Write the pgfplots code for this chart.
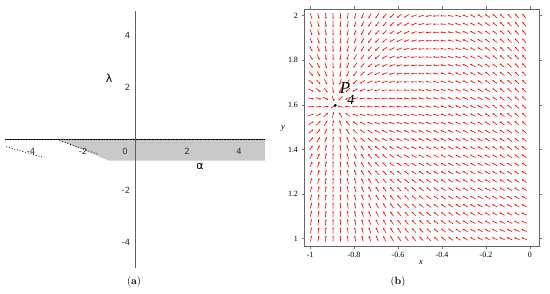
\documentclass[border=0pt]{standalone}
\usepackage{fontspec}
\usepackage{pgfplots}
\usepackage{pgfplotstable}
\pgfplotsset{compat=1.18}
\usetikzlibrary{arrows.meta}
\newfontfamily\dejavu{DejaVu Sans}
\newfontfamily\timesf{Liberation Serif}

% direction field of panel (b): grid point (x,y) and direction (u,v)
\pgfplotstableread{
x y u v
-0.995 1.000 0.104 0.480
-0.995 1.037 0.104 0.450
-0.995 1.074 0.104 0.421
-0.995 1.111 0.104 0.391
-0.995 1.148 0.104 0.362
-0.995 1.185 0.104 0.332
-0.995 1.222 0.104 0.302
-0.995 1.259 0.104 0.273
-0.995 1.296 0.104 0.243
-0.995 1.333 0.104 0.214
-0.995 1.370 0.104 0.184
-0.995 1.407 0.104 0.154
-0.995 1.444 0.104 0.125
-0.995 1.481 0.104 0.095
-0.995 1.518 0.104 0.066
-0.995 1.555 0.104 0.036
-0.995 1.592 0.104 0.006
-0.995 1.629 0.104 -0.023
-0.995 1.666 0.104 -0.053
-0.995 1.703 0.104 -0.082
-0.995 1.740 0.104 -0.112
-0.995 1.777 0.104 -0.142
-0.995 1.814 0.104 -0.171
-0.995 1.851 0.104 -0.201
-0.995 1.888 0.104 -0.230
-0.995 1.925 0.104 -0.260
-0.995 1.962 0.104 -0.290
-0.995 1.999 0.104 -0.319
-0.9616 1.000 0.0737 0.480
-0.9616 1.037 0.0737 0.450
-0.9616 1.074 0.0737 0.421
-0.9616 1.111 0.0737 0.391
-0.9616 1.148 0.0737 0.362
-0.9616 1.185 0.0737 0.332
-0.9616 1.222 0.0737 0.302
-0.9616 1.259 0.0737 0.273
-0.9616 1.296 0.0737 0.243
-0.9616 1.333 0.0737 0.214
-0.9616 1.370 0.0737 0.184
-0.9616 1.407 0.0737 0.154
-0.9616 1.444 0.0737 0.125
-0.9616 1.481 0.0737 0.095
-0.9616 1.518 0.0737 0.066
-0.9616 1.555 0.0737 0.036
-0.9616 1.592 0.0737 0.006
-0.9616 1.629 0.0737 -0.023
-0.9616 1.666 0.0737 -0.053
-0.9616 1.703 0.0737 -0.082
-0.9616 1.740 0.0737 -0.112
-0.9616 1.777 0.0737 -0.142
-0.9616 1.814 0.0737 -0.171
-0.9616 1.851 0.0737 -0.201
-0.9616 1.888 0.0737 -0.230
-0.9616 1.925 0.0737 -0.260
-0.9616 1.962 0.0737 -0.290
-0.9616 1.999 0.0737 -0.319
-0.9282 1.000 0.0423 0.480
-0.9282 1.037 0.0423 0.450
-0.9282 1.074 0.0423 0.421
-0.9282 1.111 0.0423 0.391
-0.9282 1.148 0.0423 0.362
-0.9282 1.185 0.0423 0.332
-0.9282 1.222 0.0423 0.302
-0.9282 1.259 0.0423 0.273
-0.9282 1.296 0.0423 0.243
-0.9282 1.333 0.0423 0.214
-0.9282 1.370 0.0423 0.184
-0.9282 1.407 0.0423 0.154
-0.9282 1.444 0.0423 0.125
-0.9282 1.481 0.0423 0.095
-0.9282 1.518 0.0423 0.066
-0.9282 1.555 0.0423 0.036
-0.9282 1.592 0.0423 0.006
-0.9282 1.629 0.0423 -0.023
-0.9282 1.666 0.0423 -0.053
-0.9282 1.703 0.0423 -0.082
-0.9282 1.740 0.0423 -0.112
-0.9282 1.777 0.0423 -0.142
-0.9282 1.814 0.0423 -0.171
-0.9282 1.851 0.0423 -0.201
-0.9282 1.888 0.0423 -0.230
-0.9282 1.925 0.0423 -0.260
-0.9282 1.962 0.0423 -0.290
-0.9282 1.999 0.0423 -0.319
-0.8948 1.000 0.0098 0.480
-0.8948 1.037 0.0098 0.450
-0.8948 1.074 0.0098 0.421
-0.8948 1.111 0.0098 0.391
-0.8948 1.148 0.0098 0.362
-0.8948 1.185 0.0098 0.332
-0.8948 1.222 0.0098 0.302
-0.8948 1.259 0.0098 0.273
-0.8948 1.296 0.0098 0.243
-0.8948 1.333 0.0098 0.214
-0.8948 1.370 0.0098 0.184
-0.8948 1.407 0.0098 0.154
-0.8948 1.444 0.0098 0.125
-0.8948 1.481 0.0098 0.095
-0.8948 1.518 0.0098 0.066
-0.8948 1.555 0.0098 0.036
-0.8948 1.592 0.0098 0.006
-0.8948 1.629 0.0098 -0.023
-0.8948 1.666 0.0098 -0.053
-0.8948 1.703 0.0098 -0.082
-0.8948 1.740 0.0098 -0.112
-0.8948 1.777 0.0098 -0.142
-0.8948 1.814 0.0098 -0.171
-0.8948 1.851 0.0098 -0.201
-0.8948 1.888 0.0098 -0.230
-0.8948 1.925 0.0098 -0.260
-0.8948 1.962 0.0098 -0.290
-0.8948 1.999 0.0098 -0.319
-0.8614 1.000 -0.0239 0.480
-0.8614 1.037 -0.0239 0.450
-0.8614 1.074 -0.0239 0.421
-0.8614 1.111 -0.0239 0.391
-0.8614 1.148 -0.0239 0.362
-0.8614 1.185 -0.0239 0.332
-0.8614 1.222 -0.0239 0.302
-0.8614 1.259 -0.0239 0.273
-0.8614 1.296 -0.0239 0.243
-0.8614 1.333 -0.0239 0.214
-0.8614 1.370 -0.0239 0.184
-0.8614 1.407 -0.0239 0.154
-0.8614 1.444 -0.0239 0.125
-0.8614 1.481 -0.0239 0.095
-0.8614 1.518 -0.0239 0.066
-0.8614 1.555 -0.0239 0.036
-0.8614 1.592 -0.0239 0.006
-0.8614 1.629 -0.0239 -0.023
-0.8614 1.666 -0.0239 -0.053
-0.8614 1.703 -0.0239 -0.082
-0.8614 1.740 -0.0239 -0.112
-0.8614 1.777 -0.0239 -0.142
-0.8614 1.814 -0.0239 -0.171
-0.8614 1.851 -0.0239 -0.201
-0.8614 1.888 -0.0239 -0.230
-0.8614 1.925 -0.0239 -0.260
-0.8614 1.962 -0.0239 -0.290
-0.8614 1.999 -0.0239 -0.319
-0.828 1.000 -0.0586 0.480
-0.828 1.037 -0.0586 0.450
-0.828 1.074 -0.0586 0.421
-0.828 1.111 -0.0586 0.391
-0.828 1.148 -0.0586 0.362
-0.828 1.185 -0.0586 0.332
-0.828 1.222 -0.0586 0.302
-0.828 1.259 -0.0586 0.273
-0.828 1.296 -0.0586 0.243
-0.828 1.333 -0.0586 0.214
-0.828 1.370 -0.0586 0.184
-0.828 1.407 -0.0586 0.154
-0.828 1.444 -0.0586 0.125
-0.828 1.481 -0.0586 0.095
-0.828 1.518 -0.0586 0.066
-0.828 1.555 -0.0586 0.036
-0.828 1.592 -0.0586 0.006
-0.828 1.629 -0.0586 -0.023
-0.828 1.666 -0.0586 -0.053
-0.828 1.703 -0.0586 -0.082
-0.828 1.740 -0.0586 -0.112
-0.828 1.777 -0.0586 -0.142
-0.828 1.814 -0.0586 -0.171
-0.828 1.851 -0.0586 -0.201
-0.828 1.888 -0.0586 -0.230
-0.828 1.925 -0.0586 -0.260
-0.828 1.962 -0.0586 -0.290
-0.828 1.999 -0.0586 -0.319
-0.7946 1.000 -0.0945 0.480
-0.7946 1.037 -0.0945 0.450
-0.7946 1.074 -0.0945 0.421
-0.7946 1.111 -0.0945 0.391
-0.7946 1.148 -0.0945 0.362
-0.7946 1.185 -0.0945 0.332
-0.7946 1.222 -0.0945 0.302
-0.7946 1.259 -0.0945 0.273
-0.7946 1.296 -0.0945 0.243
-0.7946 1.333 -0.0945 0.214
-0.7946 1.370 -0.0945 0.184
-0.7946 1.407 -0.0945 0.154
-0.7946 1.444 -0.0945 0.125
-0.7946 1.481 -0.0945 0.095
-0.7946 1.518 -0.0945 0.066
-0.7946 1.555 -0.0945 0.036
-0.7946 1.592 -0.0945 0.006
-0.7946 1.629 -0.0945 -0.023
-0.7946 1.666 -0.0945 -0.053
-0.7946 1.703 -0.0945 -0.082
-0.7946 1.740 -0.0945 -0.112
-0.7946 1.777 -0.0945 -0.142
-0.7946 1.814 -0.0945 -0.171
-0.7946 1.851 -0.0945 -0.201
-0.7946 1.888 -0.0945 -0.230
-0.7946 1.925 -0.0945 -0.260
-0.7946 1.962 -0.0945 -0.290
-0.7946 1.999 -0.0945 -0.319
-0.7612 1.000 -0.1315 0.480
-0.7612 1.037 -0.1315 0.451
-0.7612 1.074 -0.1315 0.421
-0.7612 1.111 -0.1315 0.392
-0.7612 1.148 -0.1315 0.362
-0.7612 1.185 -0.1315 0.333
-0.7612 1.222 -0.1315 0.304
-0.7612 1.259 -0.1315 0.274
-0.7612 1.296 -0.1315 0.245
-0.7612 1.333 -0.1315 0.215
-0.7612 1.370 -0.1315 0.186
-0.7612 1.407 -0.1315 0.157
-0.7612 1.444 -0.1315 0.127
-0.7612 1.481 -0.1315 0.098
-0.7612 1.518 -0.1315 0.069
-0.7612 1.555 -0.1315 0.039
-0.7612 1.592 -0.1315 0.010
-0.7612 1.629 -0.1315 -0.020
-0.7612 1.666 -0.1315 -0.049
-0.7612 1.703 -0.1315 -0.078
-0.7612 1.740 -0.1315 -0.108
-0.7612 1.777 -0.1315 -0.137
-0.7612 1.814 -0.1315 -0.167
-0.7612 1.851 -0.1315 -0.196
-0.7612 1.888 -0.1315 -0.225
-0.7612 1.925 -0.1315 -0.255
-0.7612 1.962 -0.1315 -0.284
-0.7612 1.999 -0.1315 -0.314
-0.7278 1.000 -0.1696 0.480
-0.7278 1.037 -0.1696 0.451
-0.7278 1.074 -0.1696 0.422
-0.7278 1.111 -0.1696 0.392
-0.7278 1.148 -0.1696 0.363
-0.7278 1.185 -0.1696 0.334
-0.7278 1.222 -0.1696 0.305
-0.7278 1.259 -0.1696 0.276
-0.7278 1.296 -0.1696 0.247
-0.7278 1.333 -0.1696 0.217
-0.7278 1.370 -0.1696 0.188
-0.7278 1.407 -0.1696 0.159
-0.7278 1.444 -0.1696 0.130
-0.7278 1.481 -0.1696 0.101
-0.7278 1.518 -0.1696 0.072
-0.7278 1.555 -0.1696 0.042
-0.7278 1.592 -0.1696 0.013
-0.7278 1.629 -0.1696 -0.016
-0.7278 1.666 -0.1696 -0.045
-0.7278 1.703 -0.1696 -0.074
-0.7278 1.740 -0.1696 -0.103
-0.7278 1.777 -0.1696 -0.133
-0.7278 1.814 -0.1696 -0.162
-0.7278 1.851 -0.1696 -0.191
-0.7278 1.888 -0.1696 -0.220
-0.7278 1.925 -0.1696 -0.249
-0.7278 1.962 -0.1696 -0.278
-0.7278 1.999 -0.1696 -0.308
-0.6944 1.000 -0.2088 0.480
-0.6944 1.037 -0.2088 0.451
-0.6944 1.074 -0.2088 0.422
-0.6944 1.111 -0.2088 0.394
-0.6944 1.148 -0.2088 0.365
-0.6944 1.185 -0.2088 0.336
-0.6944 1.222 -0.2088 0.307
-0.6944 1.259 -0.2088 0.278
-0.6944 1.296 -0.2088 0.249
-0.6944 1.333 -0.2088 0.221
-0.6944 1.370 -0.2088 0.192
-0.6944 1.407 -0.2088 0.163
-0.6944 1.444 -0.2088 0.134
-0.6944 1.481 -0.2088 0.105
-0.6944 1.518 -0.2088 0.076
-0.6944 1.555 -0.2088 0.048
-0.6944 1.592 -0.2088 0.019
-0.6944 1.629 -0.2088 -0.010
-0.6944 1.666 -0.2088 -0.039
-0.6944 1.703 -0.2088 -0.068
-0.6944 1.740 -0.2088 -0.097
-0.6944 1.777 -0.2088 -0.125
-0.6944 1.814 -0.2088 -0.154
-0.6944 1.851 -0.2088 -0.183
-0.6944 1.888 -0.2088 -0.212
-0.6944 1.925 -0.2088 -0.241
-0.6944 1.962 -0.2088 -0.270
-0.6944 1.999 -0.2088 -0.298
-0.661 1.000 -0.2491 0.480
-0.661 1.037 -0.2491 0.452
-0.661 1.074 -0.2491 0.423
-0.661 1.111 -0.2491 0.395
-0.661 1.148 -0.2491 0.367
-0.661 1.185 -0.2491 0.338
-0.661 1.222 -0.2491 0.310
-0.661 1.259 -0.2491 0.282
-0.661 1.296 -0.2491 0.253
-0.661 1.333 -0.2491 0.225
-0.661 1.370 -0.2491 0.197
-0.661 1.407 -0.2491 0.168
-0.661 1.444 -0.2491 0.140
-0.661 1.481 -0.2491 0.111
-0.661 1.518 -0.2491 0.083
-0.661 1.555 -0.2491 0.055
-0.661 1.592 -0.2491 0.026
-0.661 1.629 -0.2491 -0.002
-0.661 1.666 -0.2491 -0.030
-0.661 1.703 -0.2491 -0.059
-0.661 1.740 -0.2491 -0.087
-0.661 1.777 -0.2491 -0.115
-0.661 1.814 -0.2491 -0.144
-0.661 1.851 -0.2491 -0.172
-0.661 1.888 -0.2491 -0.200
-0.661 1.925 -0.2491 -0.229
-0.661 1.962 -0.2491 -0.257
-0.661 1.999 -0.2491 -0.286
-0.6276 1.000 -0.2905 0.480
-0.6276 1.037 -0.2905 0.452
-0.6276 1.074 -0.2905 0.425
-0.6276 1.111 -0.2905 0.397
-0.6276 1.148 -0.2905 0.369
-0.6276 1.185 -0.2905 0.341
-0.6276 1.222 -0.2905 0.314
-0.6276 1.259 -0.2905 0.286
-0.6276 1.296 -0.2905 0.258
-0.6276 1.333 -0.2905 0.231
-0.6276 1.370 -0.2905 0.203
-0.6276 1.407 -0.2905 0.175
-0.6276 1.444 -0.2905 0.148
-0.6276 1.481 -0.2905 0.120
-0.6276 1.518 -0.2905 0.092
-0.6276 1.555 -0.2905 0.064
-0.6276 1.592 -0.2905 0.037
-0.6276 1.629 -0.2905 0.009
-0.6276 1.666 -0.2905 -0.019
-0.6276 1.703 -0.2905 -0.047
-0.6276 1.740 -0.2905 -0.074
-0.6276 1.777 -0.2905 -0.102
-0.6276 1.814 -0.2905 -0.130
-0.6276 1.851 -0.2905 -0.157
-0.6276 1.888 -0.2905 -0.185
-0.6276 1.925 -0.2905 -0.213
-0.6276 1.962 -0.2905 -0.241
-0.6276 1.999 -0.2905 -0.268
-0.5942 1.000 -0.3331 0.480
-0.5942 1.037 -0.3331 0.453
-0.5942 1.074 -0.3331 0.426
-0.5942 1.111 -0.3331 0.399
-0.5942 1.148 -0.3331 0.373
-0.5942 1.185 -0.3331 0.346
-0.5942 1.222 -0.3331 0.319
-0.5942 1.259 -0.3331 0.292
-0.5942 1.296 -0.3331 0.265
-0.5942 1.333 -0.3331 0.238
-0.5942 1.370 -0.3331 0.211
-0.5942 1.407 -0.3331 0.184
-0.5942 1.444 -0.3331 0.158
-0.5942 1.481 -0.3331 0.131
-0.5942 1.518 -0.3331 0.104
-0.5942 1.555 -0.3331 0.077
-0.5942 1.592 -0.3331 0.050
-0.5942 1.629 -0.3331 0.023
-0.5942 1.666 -0.3331 -0.004
-0.5942 1.703 -0.3331 -0.031
-0.5942 1.740 -0.3331 -0.057
-0.5942 1.777 -0.3331 -0.084
-0.5942 1.814 -0.3331 -0.111
-0.5942 1.851 -0.3331 -0.138
-0.5942 1.888 -0.3331 -0.165
-0.5942 1.925 -0.3331 -0.192
-0.5942 1.962 -0.3331 -0.219
-0.5942 1.999 -0.3331 -0.246
-0.5608 1.000 -0.3768 0.480
-0.5608 1.037 -0.3768 0.454
-0.5608 1.074 -0.3768 0.428
-0.5608 1.111 -0.3768 0.403
-0.5608 1.148 -0.3768 0.377
-0.5608 1.185 -0.3768 0.351
-0.5608 1.222 -0.3768 0.325
-0.5608 1.259 -0.3768 0.299
-0.5608 1.296 -0.3768 0.273
-0.5608 1.333 -0.3768 0.248
-0.5608 1.370 -0.3768 0.222
-0.5608 1.407 -0.3768 0.196
-0.5608 1.444 -0.3768 0.170
-0.5608 1.481 -0.3768 0.144
-0.5608 1.518 -0.3768 0.119
-0.5608 1.555 -0.3768 0.093
-0.5608 1.592 -0.3768 0.067
-0.5608 1.629 -0.3768 0.041
-0.5608 1.666 -0.3768 0.015
-0.5608 1.703 -0.3768 -0.011
-0.5608 1.740 -0.3768 -0.036
-0.5608 1.777 -0.3768 -0.062
-0.5608 1.814 -0.3768 -0.088
-0.5608 1.851 -0.3768 -0.114
-0.5608 1.888 -0.3768 -0.140
-0.5608 1.925 -0.3768 -0.166
-0.5608 1.962 -0.3768 -0.191
-0.5608 1.999 -0.3768 -0.217
-0.5274 1.000 -0.4215 0.480
-0.5274 1.037 -0.4215 0.455
-0.5274 1.074 -0.4215 0.431
-0.5274 1.111 -0.4215 0.406
-0.5274 1.148 -0.4215 0.382
-0.5274 1.185 -0.4215 0.357
-0.5274 1.222 -0.4215 0.333
-0.5274 1.259 -0.4215 0.308
-0.5274 1.296 -0.4215 0.284
-0.5274 1.333 -0.4215 0.259
-0.5274 1.370 -0.4215 0.235
-0.5274 1.407 -0.4215 0.210
-0.5274 1.444 -0.4215 0.186
-0.5274 1.481 -0.4215 0.161
-0.5274 1.518 -0.4215 0.137
-0.5274 1.555 -0.4215 0.112
-0.5274 1.592 -0.4215 0.088
-0.5274 1.629 -0.4215 0.063
-0.5274 1.666 -0.4215 0.039
-0.5274 1.703 -0.4215 0.014
-0.5274 1.740 -0.4215 -0.010
-0.5274 1.777 -0.4215 -0.035
-0.5274 1.814 -0.4215 -0.059
-0.5274 1.851 -0.4215 -0.084
-0.5274 1.888 -0.4215 -0.108
-0.5274 1.925 -0.4215 -0.133
-0.5274 1.962 -0.4215 -0.158
-0.5274 1.999 -0.4215 -0.182
-0.494 1.000 -0.4674 0.480
-0.494 1.037 -0.4674 0.457
-0.494 1.074 -0.4674 0.434
-0.494 1.111 -0.4674 0.411
-0.494 1.148 -0.4674 0.388
-0.494 1.185 -0.4674 0.365
-0.494 1.222 -0.4674 0.342
-0.494 1.259 -0.4674 0.319
-0.494 1.296 -0.4674 0.296
-0.494 1.333 -0.4674 0.273
-0.494 1.370 -0.4674 0.250
-0.494 1.407 -0.4674 0.227
-0.494 1.444 -0.4674 0.205
-0.494 1.481 -0.4674 0.182
-0.494 1.518 -0.4674 0.159
-0.494 1.555 -0.4674 0.136
-0.494 1.592 -0.4674 0.113
-0.494 1.629 -0.4674 0.090
-0.494 1.666 -0.4674 0.067
-0.494 1.703 -0.4674 0.044
-0.494 1.740 -0.4674 0.021
-0.494 1.777 -0.4674 -0.002
-0.494 1.814 -0.4674 -0.025
-0.494 1.851 -0.4674 -0.048
-0.494 1.888 -0.4674 -0.071
-0.494 1.925 -0.4674 -0.094
-0.494 1.962 -0.4674 -0.117
-0.494 1.999 -0.4674 -0.140
-0.4606 1.000 -0.5145 0.480
-0.4606 1.037 -0.5145 0.459
-0.4606 1.074 -0.5145 0.438
-0.4606 1.111 -0.5145 0.417
-0.4606 1.148 -0.5145 0.396
-0.4606 1.185 -0.5145 0.374
-0.4606 1.222 -0.5145 0.353
-0.4606 1.259 -0.5145 0.332
-0.4606 1.296 -0.5145 0.311
-0.4606 1.333 -0.5145 0.290
-0.4606 1.370 -0.5145 0.269
-0.4606 1.407 -0.5145 0.248
-0.4606 1.444 -0.5145 0.227
-0.4606 1.481 -0.5145 0.205
-0.4606 1.518 -0.5145 0.184
-0.4606 1.555 -0.5145 0.163
-0.4606 1.592 -0.5145 0.142
-0.4606 1.629 -0.5145 0.121
-0.4606 1.666 -0.5145 0.100
-0.4606 1.703 -0.5145 0.079
-0.4606 1.740 -0.5145 0.058
-0.4606 1.777 -0.5145 0.037
-0.4606 1.814 -0.5145 0.015
-0.4606 1.851 -0.5145 -0.006
-0.4606 1.888 -0.5145 -0.027
-0.4606 1.925 -0.5145 -0.048
-0.4606 1.962 -0.5145 -0.069
-0.4606 1.999 -0.5145 -0.090
-0.4272 1.000 -0.5626 0.480
-0.4272 1.037 -0.5626 0.461
-0.4272 1.074 -0.5626 0.442
-0.4272 1.111 -0.5626 0.423
-0.4272 1.148 -0.5626 0.404
-0.4272 1.185 -0.5626 0.385
-0.4272 1.222 -0.5626 0.366
-0.4272 1.259 -0.5626 0.347
-0.4272 1.296 -0.5626 0.328
-0.4272 1.333 -0.5626 0.309
-0.4272 1.370 -0.5626 0.291
-0.4272 1.407 -0.5626 0.272
-0.4272 1.444 -0.5626 0.253
-0.4272 1.481 -0.5626 0.234
-0.4272 1.518 -0.5626 0.215
-0.4272 1.555 -0.5626 0.196
-0.4272 1.592 -0.5626 0.177
-0.4272 1.629 -0.5626 0.158
-0.4272 1.666 -0.5626 0.139
-0.4272 1.703 -0.5626 0.120
-0.4272 1.740 -0.5626 0.101
-0.4272 1.777 -0.5626 0.082
-0.4272 1.814 -0.5626 0.063
-0.4272 1.851 -0.5626 0.044
-0.4272 1.888 -0.5626 0.025
-0.4272 1.925 -0.5626 0.006
-0.4272 1.962 -0.5626 -0.013
-0.4272 1.999 -0.5626 -0.032
-0.3938 1.000 -0.6118 0.480
-0.3938 1.037 -0.6118 0.464
-0.3938 1.074 -0.6118 0.447
-0.3938 1.111 -0.6118 0.431
-0.3938 1.148 -0.6118 0.414
-0.3938 1.185 -0.6118 0.398
-0.3938 1.222 -0.6118 0.381
-0.3938 1.259 -0.6118 0.365
-0.3938 1.296 -0.6118 0.349
-0.3938 1.333 -0.6118 0.332
-0.3938 1.370 -0.6118 0.316
-0.3938 1.407 -0.6118 0.299
-0.3938 1.444 -0.6118 0.283
-0.3938 1.481 -0.6118 0.266
-0.3938 1.518 -0.6118 0.250
-0.3938 1.555 -0.6118 0.233
-0.3938 1.592 -0.6118 0.217
-0.3938 1.629 -0.6118 0.201
-0.3938 1.666 -0.6118 0.184
-0.3938 1.703 -0.6118 0.168
-0.3938 1.740 -0.6118 0.151
-0.3938 1.777 -0.6118 0.135
-0.3938 1.814 -0.6118 0.118
-0.3938 1.851 -0.6118 0.102
-0.3938 1.888 -0.6118 0.085
-0.3938 1.925 -0.6118 0.069
-0.3938 1.962 -0.6118 0.053
-0.3938 1.999 -0.6118 0.036
-0.3604 1.000 -0.6622 0.480
-0.3604 1.037 -0.6622 0.466
-0.3604 1.074 -0.6622 0.453
-0.3604 1.111 -0.6622 0.439
-0.3604 1.148 -0.6622 0.426
-0.3604 1.185 -0.6622 0.412
-0.3604 1.222 -0.6622 0.399
-0.3604 1.259 -0.6622 0.385
-0.3604 1.296 -0.6622 0.371
-0.3604 1.333 -0.6622 0.358
-0.3604 1.370 -0.6622 0.344
-0.3604 1.407 -0.6622 0.331
-0.3604 1.444 -0.6622 0.317
-0.3604 1.481 -0.6622 0.304
-0.3604 1.518 -0.6622 0.290
-0.3604 1.555 -0.6622 0.276
-0.3604 1.592 -0.6622 0.263
-0.3604 1.629 -0.6622 0.249
-0.3604 1.666 -0.6622 0.236
-0.3604 1.703 -0.6622 0.222
-0.3604 1.740 -0.6622 0.209
-0.3604 1.777 -0.6622 0.195
-0.3604 1.814 -0.6622 0.182
-0.3604 1.851 -0.6622 0.168
-0.3604 1.888 -0.6622 0.154
-0.3604 1.925 -0.6622 0.141
-0.3604 1.962 -0.6622 0.127
-0.3604 1.999 -0.6622 0.114
-0.327 1.000 -0.7137 0.480
-0.327 1.037 -0.7137 0.470
-0.327 1.074 -0.7137 0.459
-0.327 1.111 -0.7137 0.449
-0.327 1.148 -0.7137 0.439
-0.327 1.185 -0.7137 0.428
-0.327 1.222 -0.7137 0.418
-0.327 1.259 -0.7137 0.408
-0.327 1.296 -0.7137 0.398
-0.327 1.333 -0.7137 0.387
-0.327 1.370 -0.7137 0.377
-0.327 1.407 -0.7137 0.367
-0.327 1.444 -0.7137 0.356
-0.327 1.481 -0.7137 0.346
-0.327 1.518 -0.7137 0.336
-0.327 1.555 -0.7137 0.325
-0.327 1.592 -0.7137 0.315
-0.327 1.629 -0.7137 0.305
-0.327 1.666 -0.7137 0.294
-0.327 1.703 -0.7137 0.284
-0.327 1.740 -0.7137 0.274
-0.327 1.777 -0.7137 0.263
-0.327 1.814 -0.7137 0.253
-0.327 1.851 -0.7137 0.243
-0.327 1.888 -0.7137 0.233
-0.327 1.925 -0.7137 0.222
-0.327 1.962 -0.7137 0.212
-0.327 1.999 -0.7137 0.202
-0.2936 1.000 -0.7663 0.480
-0.2936 1.037 -0.7663 0.473
-0.2936 1.074 -0.7663 0.467
-0.2936 1.111 -0.7663 0.460
-0.2936 1.148 -0.7663 0.453
-0.2936 1.185 -0.7663 0.447
-0.2936 1.222 -0.7663 0.440
-0.2936 1.259 -0.7663 0.433
-0.2936 1.296 -0.7663 0.427
-0.2936 1.333 -0.7663 0.420
-0.2936 1.370 -0.7663 0.414
-0.2936 1.407 -0.7663 0.407
-0.2936 1.444 -0.7663 0.400
-0.2936 1.481 -0.7663 0.394
-0.2936 1.518 -0.7663 0.387
-0.2936 1.555 -0.7663 0.380
-0.2936 1.592 -0.7663 0.374
-0.2936 1.629 -0.7663 0.367
-0.2936 1.666 -0.7663 0.360
-0.2936 1.703 -0.7663 0.354
-0.2936 1.740 -0.7663 0.347
-0.2936 1.777 -0.7663 0.341
-0.2936 1.814 -0.7663 0.334
-0.2936 1.851 -0.7663 0.327
-0.2936 1.888 -0.7663 0.321
-0.2936 1.925 -0.7663 0.314
-0.2936 1.962 -0.7663 0.307
-0.2936 1.999 -0.7663 0.301
-0.2602 1.000 -0.8200 0.480
-0.2602 1.037 -0.8200 0.477
-0.2602 1.074 -0.8200 0.475
-0.2602 1.111 -0.8200 0.472
-0.2602 1.148 -0.8200 0.470
-0.2602 1.185 -0.8200 0.467
-0.2602 1.222 -0.8200 0.465
-0.2602 1.259 -0.8200 0.462
-0.2602 1.296 -0.8200 0.460
-0.2602 1.333 -0.8200 0.457
-0.2602 1.370 -0.8200 0.455
-0.2602 1.407 -0.8200 0.452
-0.2602 1.444 -0.8200 0.450
-0.2602 1.481 -0.8200 0.447
-0.2602 1.518 -0.8200 0.445
-0.2602 1.555 -0.8200 0.442
-0.2602 1.592 -0.8200 0.440
-0.2602 1.629 -0.8200 0.437
-0.2602 1.666 -0.8200 0.434
-0.2602 1.703 -0.8200 0.432
-0.2602 1.740 -0.8200 0.429
-0.2602 1.777 -0.8200 0.427
-0.2602 1.814 -0.8200 0.424
-0.2602 1.851 -0.8200 0.422
-0.2602 1.888 -0.8200 0.419
-0.2602 1.925 -0.8200 0.417
-0.2602 1.962 -0.8200 0.414
-0.2602 1.999 -0.8200 0.412
-0.2268 1.000 -0.8748 0.480
-0.2268 1.037 -0.8748 0.482
-0.2268 1.074 -0.8748 0.484
-0.2268 1.111 -0.8748 0.486
-0.2268 1.148 -0.8748 0.488
-0.2268 1.185 -0.8748 0.490
-0.2268 1.222 -0.8748 0.492
-0.2268 1.259 -0.8748 0.494
-0.2268 1.296 -0.8748 0.496
-0.2268 1.333 -0.8748 0.498
-0.2268 1.370 -0.8748 0.501
-0.2268 1.407 -0.8748 0.503
-0.2268 1.444 -0.8748 0.505
-0.2268 1.481 -0.8748 0.507
-0.2268 1.518 -0.8748 0.509
-0.2268 1.555 -0.8748 0.511
-0.2268 1.592 -0.8748 0.513
-0.2268 1.629 -0.8748 0.515
-0.2268 1.666 -0.8748 0.517
-0.2268 1.703 -0.8748 0.519
-0.2268 1.740 -0.8748 0.521
-0.2268 1.777 -0.8748 0.523
-0.2268 1.814 -0.8748 0.525
-0.2268 1.851 -0.8748 0.527
-0.2268 1.888 -0.8748 0.529
-0.2268 1.925 -0.8748 0.531
-0.2268 1.962 -0.8748 0.533
-0.2268 1.999 -0.8748 0.535
-0.1934 1.000 -0.9308 0.480
-0.1934 1.037 -0.9308 0.487
-0.1934 1.074 -0.9308 0.494
-0.1934 1.111 -0.9308 0.501
-0.1934 1.148 -0.9308 0.508
-0.1934 1.185 -0.9308 0.516
-0.1934 1.222 -0.9308 0.523
-0.1934 1.259 -0.9308 0.530
-0.1934 1.296 -0.9308 0.537
-0.1934 1.333 -0.9308 0.544
-0.1934 1.370 -0.9308 0.551
-0.1934 1.407 -0.9308 0.558
-0.1934 1.444 -0.9308 0.565
-0.1934 1.481 -0.9308 0.573
-0.1934 1.518 -0.9308 0.580
-0.1934 1.555 -0.9308 0.587
-0.1934 1.592 -0.9308 0.594
-0.1934 1.629 -0.9308 0.601
-0.1934 1.666 -0.9308 0.608
-0.1934 1.703 -0.9308 0.615
-0.1934 1.740 -0.9308 0.622
-0.1934 1.777 -0.9308 0.630
-0.1934 1.814 -0.9308 0.637
-0.1934 1.851 -0.9308 0.644
-0.1934 1.888 -0.9308 0.651
-0.1934 1.925 -0.9308 0.658
-0.1934 1.962 -0.9308 0.665
-0.1934 1.999 -0.9308 0.672
-0.16 1.000 -0.9878 0.480
-0.16 1.037 -0.9878 0.493
-0.16 1.074 -0.9878 0.505
-0.16 1.111 -0.9878 0.518
-0.16 1.148 -0.9878 0.531
-0.16 1.185 -0.9878 0.544
-0.16 1.222 -0.9878 0.556
-0.16 1.259 -0.9878 0.569
-0.16 1.296 -0.9878 0.582
-0.16 1.333 -0.9878 0.594
-0.16 1.370 -0.9878 0.607
-0.16 1.407 -0.9878 0.620
-0.16 1.444 -0.9878 0.632
-0.16 1.481 -0.9878 0.645
-0.16 1.518 -0.9878 0.658
-0.16 1.555 -0.9878 0.671
-0.16 1.592 -0.9878 0.683
-0.16 1.629 -0.9878 0.696
-0.16 1.666 -0.9878 0.709
-0.16 1.703 -0.9878 0.721
-0.16 1.740 -0.9878 0.734
-0.16 1.777 -0.9878 0.747
-0.16 1.814 -0.9878 0.759
-0.16 1.851 -0.9878 0.772
-0.16 1.888 -0.9878 0.785
-0.16 1.925 -0.9878 0.798
-0.16 1.962 -0.9878 0.810
-0.16 1.999 -0.9878 0.823
-0.1266 1.000 -1.0460 0.480
-0.1266 1.037 -1.0460 0.499
-0.1266 1.074 -1.0460 0.518
-0.1266 1.111 -1.0460 0.537
-0.1266 1.148 -1.0460 0.555
-0.1266 1.185 -1.0460 0.574
-0.1266 1.222 -1.0460 0.593
-0.1266 1.259 -1.0460 0.612
-0.1266 1.296 -1.0460 0.631
-0.1266 1.333 -1.0460 0.649
-0.1266 1.370 -1.0460 0.668
-0.1266 1.407 -1.0460 0.687
-0.1266 1.444 -1.0460 0.706
-0.1266 1.481 -1.0460 0.725
-0.1266 1.518 -1.0460 0.743
-0.1266 1.555 -1.0460 0.762
-0.1266 1.592 -1.0460 0.781
-0.1266 1.629 -1.0460 0.800
-0.1266 1.666 -1.0460 0.819
-0.1266 1.703 -1.0460 0.838
-0.1266 1.740 -1.0460 0.856
-0.1266 1.777 -1.0460 0.875
-0.1266 1.814 -1.0460 0.894
-0.1266 1.851 -1.0460 0.913
-0.1266 1.888 -1.0460 0.932
-0.1266 1.925 -1.0460 0.951
-0.1266 1.962 -1.0460 0.969
-0.1266 1.999 -1.0460 0.988
-0.0932 1.000 -1.1053 0.480
-0.0932 1.037 -1.1053 0.506
-0.0932 1.074 -1.1053 0.531
-0.0932 1.111 -1.1053 0.557
-0.0932 1.148 -1.1053 0.582
-0.0932 1.185 -1.1053 0.608
-0.0932 1.222 -1.1053 0.633
-0.0932 1.259 -1.1053 0.659
-0.0932 1.296 -1.1053 0.684
-0.0932 1.333 -1.1053 0.710
-0.0932 1.370 -1.1053 0.735
-0.0932 1.407 -1.1053 0.761
-0.0932 1.444 -1.1053 0.786
-0.0932 1.481 -1.1053 0.812
-0.0932 1.518 -1.1053 0.837
-0.0932 1.555 -1.1053 0.863
-0.0932 1.592 -1.1053 0.888
-0.0932 1.629 -1.1053 0.914
-0.0932 1.666 -1.1053 0.939
-0.0932 1.703 -1.1053 0.965
-0.0932 1.740 -1.1053 0.990
-0.0932 1.777 -1.1053 1.016
-0.0932 1.814 -1.1053 1.041
-0.0932 1.851 -1.1053 1.067
-0.0932 1.888 -1.1053 1.092
-0.0932 1.925 -1.1053 1.118
-0.0932 1.962 -1.1053 1.143
-0.0932 1.999 -1.1053 1.169
-0.0598 1.000 -1.1657 0.480
-0.0598 1.037 -1.1657 0.513
-0.0598 1.074 -1.1657 0.546
-0.0598 1.111 -1.1657 0.578
-0.0598 1.148 -1.1657 0.611
-0.0598 1.185 -1.1657 0.644
-0.0598 1.222 -1.1657 0.677
-0.0598 1.259 -1.1657 0.709
-0.0598 1.296 -1.1657 0.742
-0.0598 1.333 -1.1657 0.775
-0.0598 1.370 -1.1657 0.808
-0.0598 1.407 -1.1657 0.840
-0.0598 1.444 -1.1657 0.873
-0.0598 1.481 -1.1657 0.906
-0.0598 1.518 -1.1657 0.939
-0.0598 1.555 -1.1657 0.972
-0.0598 1.592 -1.1657 1.004
-0.0598 1.629 -1.1657 1.037
-0.0598 1.666 -1.1657 1.070
-0.0598 1.703 -1.1657 1.103
-0.0598 1.740 -1.1657 1.135
-0.0598 1.777 -1.1657 1.168
-0.0598 1.814 -1.1657 1.201
-0.0598 1.851 -1.1657 1.234
-0.0598 1.888 -1.1657 1.266
-0.0598 1.925 -1.1657 1.299
-0.0598 1.962 -1.1657 1.332
-0.0598 1.999 -1.1657 1.365
-0.0264 1.000 -1.2272 0.480
-0.0264 1.037 -1.2272 0.521
-0.0264 1.074 -1.2272 0.561
-0.0264 1.111 -1.2272 0.602
-0.0264 1.148 -1.2272 0.643
-0.0264 1.185 -1.2272 0.683
-0.0264 1.222 -1.2272 0.724
-0.0264 1.259 -1.2272 0.765
-0.0264 1.296 -1.2272 0.805
-0.0264 1.333 -1.2272 0.846
-0.0264 1.370 -1.2272 0.887
-0.0264 1.407 -1.2272 0.927
-0.0264 1.444 -1.2272 0.968
-0.0264 1.481 -1.2272 1.009
-0.0264 1.518 -1.2272 1.049
-0.0264 1.555 -1.2272 1.090
-0.0264 1.592 -1.2272 1.131
-0.0264 1.629 -1.2272 1.171
-0.0264 1.666 -1.2272 1.212
-0.0264 1.703 -1.2272 1.253
-0.0264 1.740 -1.2272 1.293
-0.0264 1.777 -1.2272 1.334
-0.0264 1.814 -1.2272 1.375
-0.0264 1.851 -1.2272 1.415
-0.0264 1.888 -1.2272 1.456
-0.0264 1.925 -1.2272 1.497
-0.0264 1.962 -1.2272 1.537
-0.0264 1.999 -1.2272 1.578
}\field

\begin{document}
\begin{tikzpicture}

% ---------- (a) ----------
\begin{axis}[
  at={(5bp,26bp)}, anchor=south west,
  scale only axis, width=260bp, height=258bp,
  xmin=-5, xmax=5, ymin=-5, ymax=5,
  axis lines=middle, axis on top,
  x axis line style={draw=none}, y axis line style={draw=none},
  xtick={-4,-2,2,4}, ytick={-4,-2,2,4},
  major tick length=0pt,
  /pgf/number format/assume math mode=true,
  ticklabel style={font=\dejavu\fontsize{8.5}{10}\selectfont, text=black!80, inner sep=0pt},
  xticklabel style={anchor=center, yshift=-12bp},
  yticklabel style={anchor=east, xshift=-4.5bp},
  clip=false,
]
\addplot[fill=gray!42, draw=none] coordinates {(-3,0) (5,0) (5,-0.84) (-1,-0.84) (-3,0)};
\addplot[black, dotted, line width=0.8bp] coordinates {(-2.9,-0.06) (-1.4,-0.6)};
\addplot[black, dotted, line width=0.8bp] coordinates {(-4.95,-0.3) (-3.5,-0.72)};
\draw[gray!60!black, line width=0.5bp] (axis cs:-5,0) -- (axis cs:5,0);
\draw[black, densely dotted, line width=0.6bp] (axis cs:-5,0) -- (axis cs:5,0);
\draw[gray!75!black, line width=0.9bp] (axis cs:0,-5) -- (axis cs:0,4.95);
\node[font=\dejavu\fontsize{8.5}{10}\selectfont, text=black!80] at (axis cs:-0.38,-0.47) {0};
\node[font=\dejavu\fontsize{11}{12}\selectfont] at (axis cs:-1.0,2.35) {λ};
\node[font=\dejavu\fontsize{11}{12}\selectfont] at (axis cs:2.5,-1.06) {α};
\end{axis}

% ---------- (b) ----------
\begin{axis}[
  at={(304bp,48bp)}, anchor=south west,
  scale only axis, width=235bp, height=237bp,
  xmin=-1.027, xmax=0.041, ymin=0.967, ymax=2.030,
  xtick={-1,-0.8,-0.6,-0.4,-0.2,0}, ytick={1,1.2,1.4,1.6,1.8,2},
  axis line style={draw=black!60, line width=0.9bp},
  tick align=outside, major tick length=2.5bp,
  tick style={black!55, line width=0.5bp},
  /pgf/number format/assume math mode=true,
  ticklabel style={font=\timesf\fontsize{8}{9}\selectfont},
  clip=false,
]
\addplot[red, line width=0.6bp,
  quiver={
    u=0.026*(\thisrow{u})/sqrt((\thisrow{u})^2+(\thisrow{v})^2),
    v=0.026*(\thisrow{v})/sqrt((\thisrow{u})^2+(\thisrow{v})^2),
    every arrow/.append style={-{Stealth[length=1.8bp,width=1.7bp]}}},
] table[
  x expr=\thisrow{x}-0.013*(\thisrow{u})/sqrt((\thisrow{u})^2+(\thisrow{v})^2),
  y expr=\thisrow{y}-0.013*(\thisrow{v})/sqrt((\thisrow{u})^2+(\thisrow{v})^2),
] {\field};
\addplot[only marks, mark=*, mark size=1.2bp, black] coordinates {(-0.885,1.598)};
\node[font=\timesf\itshape\fontsize{17}{17}\selectfont] at (axis cs:-0.841,1.676) {P};
\node[font=\timesf\itshape\fontsize{14}{14}\selectfont] at (axis cs:-0.814,1.622) {4};
\node[font=\timesf\itshape\fontsize{8.5}{9}\selectfont] at (axis cs:-0.495,0.893) {x};
\node[font=\timesf\itshape\fontsize{8.5}{9}\selectfont] at (axis cs:-1.123,1.496) {y};
\end{axis}

\node[font=\fontsize{10.5}{12}\selectfont] at (134bp,12bp) {(\textbf{a})};
\node[font=\fontsize{10.5}{12}\selectfont] at (398bp,12bp) {(\textbf{b})};

\pgfresetboundingbox
\path[use as bounding box] (0,0) rectangle (550bp,294bp);
\end{tikzpicture}
\end{document}
